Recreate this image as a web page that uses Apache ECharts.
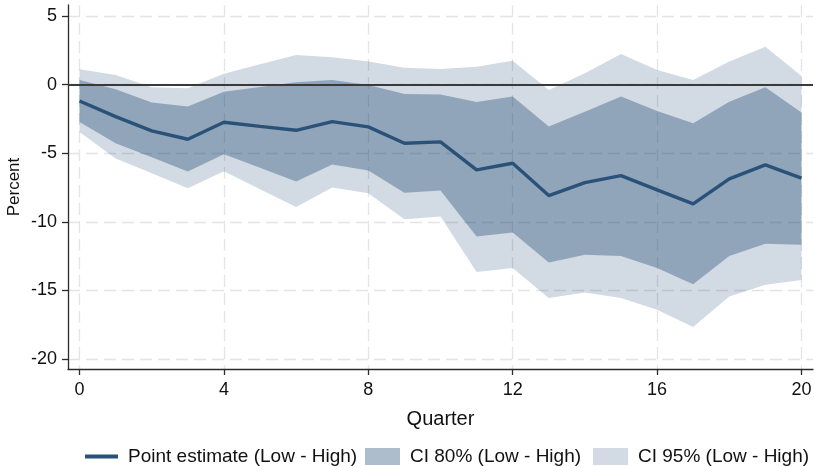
<!DOCTYPE html>
<html>
<head>
<meta charset="utf-8">
<script src="https://cdn.jsdelivr.net/npm/echarts@6/dist/echarts.min.js"></script>
<style>html,body{margin:0;padding:0;background:#fff}#chart{width:815px;height:466px}</style>
</head>
<body>
<div id="chart"></div>
<script>
// Quarters
const quarters = [0,1,2,3,4,5,6,7,8,9,10,11,12,13,14,15,16,17,18,19,20];
// Point estimate (Low - High)
const pointEst = [-1.19,-2.33,-3.37,-3.98,-2.74,-3.04,-3.33,-2.70,-3.08,-4.27,-4.17,-6.22,-5.73,-8.09,-7.14,-6.63,-7.67,-8.70,-6.87,-5.85,-6.82];
// CI 80%
const ci80Hi = [0.34,-0.34,-1.31,-1.60,-0.51,-0.18,0.18,0.34,-0.02,-0.68,-0.71,-1.26,-0.87,-3.06,-1.97,-0.87,-1.92,-2.82,-1.24,-0.19,-2.04];
const ci80Lo = [-2.72,-4.27,-5.29,-6.34,-5.08,-6.07,-7.07,-5.83,-6.27,-7.89,-7.72,-11.08,-10.79,-12.97,-12.41,-12.49,-13.38,-14.55,-12.49,-11.61,-11.68];
// CI 95%
const ci95Hi = [1.12,0.71,-0.19,-0.27,0.80,1.48,2.16,2.00,1.68,1.24,1.14,1.31,1.75,-0.39,0.83,2.24,1.07,0.34,1.68,2.77,0.63];
const ci95Lo = [-3.45,-5.39,-6.46,-7.55,-6.32,-7.62,-8.92,-7.51,-7.92,-9.81,-9.62,-13.67,-13.38,-15.57,-15.16,-15.57,-16.42,-17.68,-15.45,-14.60,-14.24];
// Tick labels
const xTicks = [0,4,8,12,16,20];
const yTicks = [-20,-15,-10,-5,0,5];

const names = ['Point estimate (Low - High)','CI 80% (Low - High)','CI 95% (Low - High)'];
const FONT = 'Liberation Sans, Arial, sans-serif';
const C80 = 'rgba(28,72,113,0.36)';
const C95 = 'rgba(28,72,113,0.2)';

const pairs = (arr) => quarters.map((q,i)=>[q, arr[i]]);
const bandData = (lo, hi) => quarters.map((q,i)=>[q, lo[i], hi[i]]);

function bandRenderer(lo, hi, fill) {
  return function (params, api) {
    if (params.dataIndex !== 0) return null;
    const pts = [];
    for (let i = 0; i < quarters.length; i++) pts.push(api.coord([quarters[i], hi[i]]));
    for (let i = quarters.length - 1; i >= 0; i--) pts.push(api.coord([quarters[i], lo[i]]));
    return {type:'polygon', shape:{points:pts}, style:{fill:fill, stroke:null}};
  };
}

const chart = echarts.init(document.getElementById('chart'), null, {renderer:'canvas'});
const gridLine = {show:true, lineStyle:{color:'#e4e4e4', width:1.3, type:[12,6]}};
const axisLineStyle = {color:'#2b2b2b', width:1.3};
const legendText = {fontSize:19, color:'#111', fontFamily:FONT, padding:[0,0,0,5]};

chart.setOption({
  animation:false,
  backgroundColor:'#ffffff',
  textStyle:{fontFamily:FONT},
  grid:{left:68, right:2, top:5, bottom:97, containLabel:false, outerBoundsMode:'none'},
  xAxis:{
    type:'value', min:-0.32, max:20.32,
    name:'Quarter', nameLocation:'middle', nameGap:40, nameMoveOverlap:false,
    nameTextStyle:{fontSize:20, color:'#111', fontFamily:FONT},
    axisLine:{show:true, onZero:false, lineStyle:axisLineStyle},
    axisTick:{show:true, inside:false, length:6, lineStyle:axisLineStyle, customValues:xTicks},
    axisLabel:{fontSize:18, color:'#111', margin:12, customValues:xTicks, fontFamily:FONT},
    splitLine:gridLine
  },
  yAxis:{
    type:'value', min:-20.74, max:5.81,
    name:'Percent', nameLocation:'middle', nameGap:45, nameRotate:90, nameMoveOverlap:false,
    nameTextStyle:{fontSize:17, color:'#111', fontFamily:FONT},
    axisLine:{show:true, onZero:false, lineStyle:axisLineStyle},
    axisTick:{show:true, inside:false, length:6, lineStyle:axisLineStyle, customValues:yTicks},
    axisLabel:{fontSize:18, color:'#111', margin:11, customValues:yTicks, fontFamily:FONT},
    splitLine:gridLine
  },
  legend:[
    {data:[{name:names[0], icon:'rect', itemStyle:{color:'#2a5279'}}], left:85, top:447, padding:0, itemWidth:33, itemHeight:4,
     textStyle:legendText, selectedMode:false},
    {data:[{name:names[1], icon:'rect', itemStyle:{color:C80}}], left:365, top:447, padding:0, itemWidth:35, itemHeight:17,
     textStyle:legendText, selectedMode:false},
    {data:[{name:names[2], icon:'rect', itemStyle:{color:C95}}], left:593, top:447, padding:0, itemWidth:35, itemHeight:17,
     textStyle:legendText, selectedMode:false}
  ],
  series:[
    {name:names[2], type:'custom', data:bandData(ci95Lo, ci95Hi), encode:{x:0, y:[1,2]},
     itemStyle:{color:C95}, renderItem:bandRenderer(ci95Lo, ci95Hi, C95), silent:true, z:2},
    {name:names[1], type:'custom', data:bandData(ci80Lo, ci80Hi), encode:{x:0, y:[1,2]},
     itemStyle:{color:C80}, renderItem:bandRenderer(ci80Lo, ci80Hi, C80), silent:true, z:2},
    {name:names[0], type:'line', data:pairs(pointEst), symbol:'none',
     itemStyle:{color:'#2a5279'},
     lineStyle:{color:'#2a5279', width:3.4}, z:4,
     markLine:{silent:true, symbol:'none', label:{show:false},
       lineStyle:{color:'#3a3a3a', width:2, type:'solid'},
       data:[{yAxis:0}]}}
  ]
});
</script>
</body>
</html>
